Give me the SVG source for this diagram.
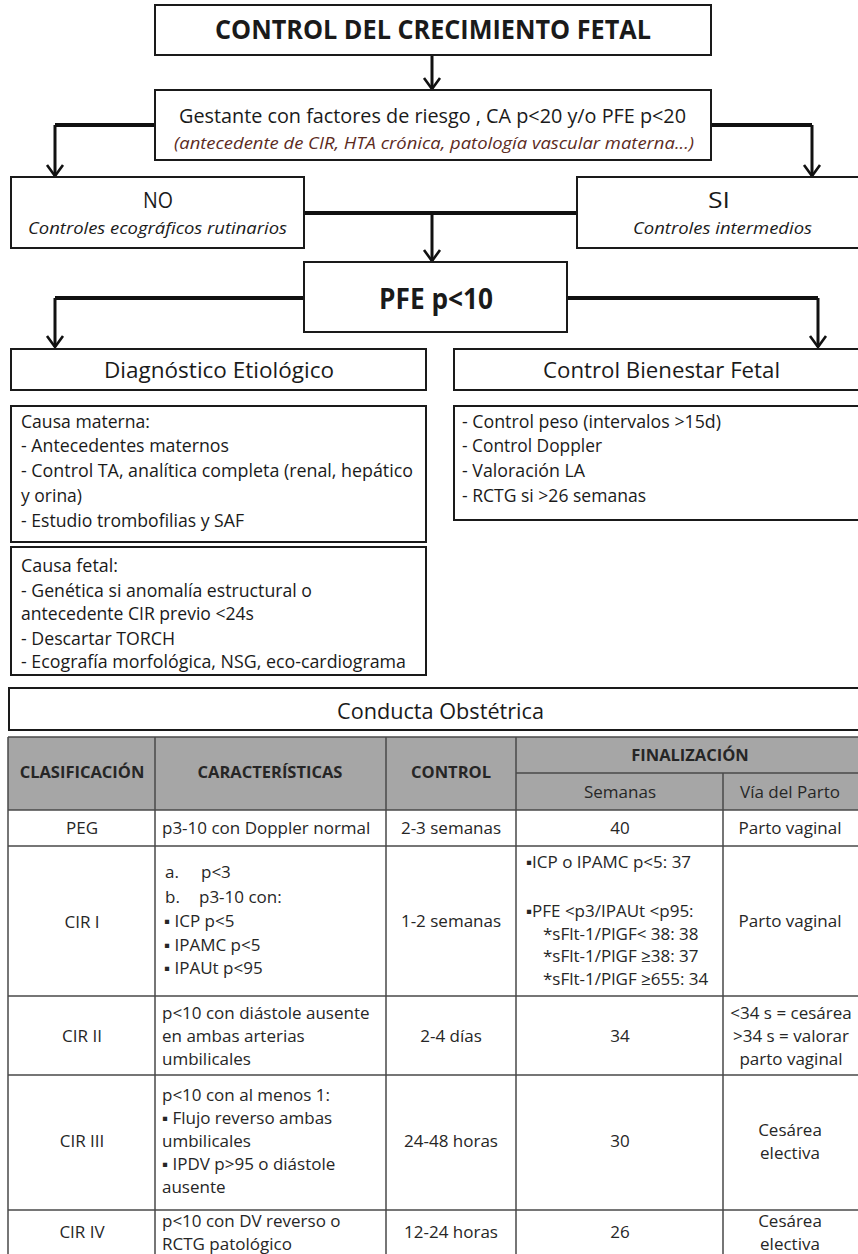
<svg xmlns="http://www.w3.org/2000/svg" width="858" height="1254" viewBox="0 0 858 1254">
<defs>
<style>
.box{fill:#fff;stroke:#1a1a1a;stroke-width:2}
.t{font-family:"Open Sans","Liberation Sans",sans-serif;fill:#1a1a1a}
.b{font-weight:bold}
.i{font-style:italic}
.c{text-anchor:middle}
.ft{font-size:18px}
.conn{fill:none;stroke:#111;stroke-linejoin:miter}
.h{stroke-width:4}
.v{stroke-width:3}
.grid{stroke:#4a4a4a;stroke-width:1.5;fill:none}
.hd{fill:#a6a6a6}
.tb{font-family:"Open Sans","Liberation Sans",sans-serif;font-size:17px;fill:#262626}
.th{font-family:"Open Sans","Liberation Sans",sans-serif;font-size:16.5px;font-weight:bold;fill:#262626}
</style>
<marker id="ah" viewBox="-2 -10 15 20" refX="11" refY="0" markerWidth="15" markerHeight="20" orient="auto" markerUnits="userSpaceOnUse">
<path d="M0,-8 L11,0 L0,8" fill="none" stroke="#111" stroke-width="2.6"/>
</marker>
</defs>
<rect width="858" height="1254" fill="#fff"/>

<g id="connectors">
<path class="conn v" d="M432,55 L432,89" marker-end="url(#ah)"/>
<path class="conn h" d="M155,125 L55,125"/>
<path class="conn v" d="M55,125 L55,176" marker-end="url(#ah)"/>
<path class="conn h" d="M711,125 L812,125"/>
<path class="conn v" d="M812,125 L812,176" marker-end="url(#ah)"/>
<path class="conn h" d="M304,213 L577,213"/>
<path class="conn v" d="M432,213 L432,261" marker-end="url(#ah)"/>
<path class="conn h" d="M304,298 L55,298"/>
<path class="conn v" d="M55,298 L55,347" marker-end="url(#ah)"/>
<path class="conn h" d="M567,298 L818,298"/>
<path class="conn v" d="M818,298 L818,347" marker-end="url(#ah)"/>
</g>

<g id="title">
<rect class="box" x="155" y="5" width="556" height="50"/>
<text class="t b c" x="433" y="39" font-size="26" textLength="436" lengthAdjust="spacingAndGlyphs">CONTROL DEL CRECIMIENTO FETAL</text>
</g>

<g id="gestante">
<rect class="box" x="155" y="90" width="556" height="70"/>
<text class="t" x="179" y="123" font-size="20" textLength="507" lengthAdjust="spacingAndGlyphs">Gestante con factores de riesgo , CA p&lt;20 y/o PFE p&lt;20</text>
<text class="t i" x="174" y="149" font-size="17" style="fill:#5c2b1e" textLength="520" lengthAdjust="spacingAndGlyphs">(antecedente de CIR, HTA crónica, patología  vascular materna...)</text>
</g>

<g id="no">
<rect class="box" x="11" y="177" width="293" height="71"/>
<text class="t c" x="158" y="208" font-size="22" textLength="30" lengthAdjust="spacingAndGlyphs">NO</text>
<text class="t i" x="28" y="234" font-size="17" textLength="259" lengthAdjust="spacingAndGlyphs">Controles ecográficos rutinarios</text>
</g>

<g id="si">
<rect class="box" x="577" y="177" width="290" height="71"/>
<text class="t c" x="719" y="208" font-size="22" textLength="22" lengthAdjust="spacingAndGlyphs">SI</text>
<text class="t i" x="633" y="234" font-size="17" textLength="179" lengthAdjust="spacingAndGlyphs">Controles intermedios</text>
</g>

<g id="pfe">
<rect class="box" x="304" y="262" width="263" height="70"/>
<text class="t b" x="379" y="309" font-size="29" textLength="114" lengthAdjust="spacingAndGlyphs">PFE p&lt;10</text>
</g>

<g id="diagnostico">
<rect class="box" x="11" y="349" width="415" height="41"/>
<text class="t" x="104" y="378" font-size="21" textLength="230" lengthAdjust="spacingAndGlyphs">Diagnóstico Etiológico</text>
</g>

<g id="bienestar">
<rect class="box" x="454" y="349" width="414" height="41"/>
<text class="t" x="543" y="378" font-size="21" textLength="237" lengthAdjust="spacingAndGlyphs">Control Bienestar Fetal</text>
</g>

<g id="causa-materna">
<rect class="box" x="11" y="406" width="415" height="136"/>
<text class="t ft" x="21" y="428" textLength="129" lengthAdjust="spacingAndGlyphs">Causa materna:</text>
<text class="t ft" x="21" y="452" textLength="208" lengthAdjust="spacingAndGlyphs">- Antecedentes maternos</text>
<text class="t ft" x="21" y="477" textLength="392" lengthAdjust="spacingAndGlyphs">- Control TA, analítica completa (renal, hepático</text>
<text class="t ft" x="21" y="502" textLength="61" lengthAdjust="spacingAndGlyphs">y orina)</text>
<text class="t ft" x="21" y="527" textLength="223" lengthAdjust="spacingAndGlyphs">- Estudio trombofilias y SAF</text>
</g>

<g id="causa-fetal">
<rect class="box" x="11" y="547" width="415" height="128"/>
<text class="t ft" x="21" y="572" textLength="97" lengthAdjust="spacingAndGlyphs">Causa fetal:</text>
<text class="t ft" x="21" y="597" textLength="291" lengthAdjust="spacingAndGlyphs">- Genética si anomalía estructural o</text>
<text class="t ft" x="21" y="620" textLength="233" lengthAdjust="spacingAndGlyphs">antecedente CIR previo &lt;24s</text>
<text class="t ft" x="21" y="645" textLength="154" lengthAdjust="spacingAndGlyphs">- Descartar TORCH</text>
<text class="t ft" x="21" y="668" textLength="385" lengthAdjust="spacingAndGlyphs">- Ecografía morfológica, NSG, eco-cardiograma</text>
</g>

<g id="control-lista">
<rect class="box" x="454" y="406" width="414" height="114"/>
<text class="t ft" x="462" y="428" textLength="259" lengthAdjust="spacingAndGlyphs">- Control peso (intervalos &gt;15d)</text>
<text class="t ft" x="462" y="452" textLength="140" lengthAdjust="spacingAndGlyphs">- Control Doppler</text>
<text class="t ft" x="462" y="477" textLength="123" lengthAdjust="spacingAndGlyphs">- Valoración LA</text>
<text class="t ft" x="462" y="502" textLength="184" lengthAdjust="spacingAndGlyphs">- RCTG si &gt;26 semanas</text>
</g>

<g id="conducta">
<rect class="box" x="9" y="688" width="860" height="42"/>
<text class="t" x="337" y="719" font-size="21" textLength="207" lengthAdjust="spacingAndGlyphs">Conducta Obstétrica</text>
</g>

<g id="table">
<rect class="hd" x="8" y="737" width="852" height="73"/>
<path class="grid" d="M8,737 H860 M516,773 H860 M8,810 H860 M8,846 H860 M8,996 H860 M8,1075 H860 M8,1210 H860 M8,737 V1260 M155,737 V1260 M386,737 V1260 M516,737 V1260 M723,773 V1260"/>
<text class="th c" x="82" y="778">CLASIFICACIÓN</text>
<text class="th c" x="270" y="778">CARACTERÍSTICAS</text>
<text class="th c" x="451" y="778">CONTROL</text>
<text class="th c" x="690" y="761">FINALIZACIÓN</text>
<text class="tb c" x="620" y="798">Semanas</text>
<text class="tb c" x="790" y="798">Vía del Parto</text>

<text class="tb c" x="82" y="834">PEG</text>
<text class="tb" x="162" y="834">p3-10 con Doppler normal</text>
<text class="tb c" x="451" y="834">2-3 semanas</text>
<text class="tb c" x="620" y="834">40</text>
<text class="tb c" x="790" y="834">Parto vaginal</text>

<text class="tb c" x="82" y="928">CIR I</text>
<text class="tb" x="165" y="878">a.</text><text class="tb" x="201" y="878">p&lt;3</text>
<text class="tb" x="165" y="903">b.</text><text class="tb" x="199" y="903">p3-10 con:</text>
<text class="tb" x="164" y="927">▪ ICP p&lt;5</text>
<text class="tb" x="164" y="951">▪ IPAMC p&lt;5</text>
<text class="tb" x="164" y="974">▪ IPAUt p&lt;95</text>
<text class="tb c" x="451" y="927">1-2 semanas</text>
<text class="tb" x="526" y="868">▪ICP o IPAMC p&lt;5: 37</text>
<text class="tb" x="526" y="917">▪PFE &lt;p3/IPAUt &lt;p95:</text>
<text class="tb" x="543" y="940">*sFlt-1/PlGF&lt; 38: 38</text>
<text class="tb" x="543" y="962">*sFlt-1/PlGF ≥38: 37</text>
<text class="tb" x="543" y="985">*sFlt-1/PlGF ≥655: 34</text>
<text class="tb c" x="790" y="927">Parto vaginal</text>

<text class="tb c" x="82" y="1042">CIR II</text>
<text class="tb" x="162" y="1019">p&lt;10 con diástole ausente</text>
<text class="tb" x="162" y="1042">en ambas arterias</text>
<text class="tb" x="162" y="1065">umbilicales</text>
<text class="tb c" x="451" y="1042">2-4 días</text>
<text class="tb c" x="620" y="1042">34</text>
<text class="tb c" x="791" y="1019">&lt;34 s = cesárea</text>
<text class="tb c" x="791" y="1042">&gt;34 s = valorar</text>
<text class="tb c" x="791" y="1065">parto vaginal</text>

<text class="tb c" x="82" y="1147">CIR III</text>
<text class="tb" x="162" y="1101">p&lt;10 con al menos 1:</text>
<text class="tb" x="162" y="1124">▪ Flujo reverso ambas</text>
<text class="tb" x="162" y="1147">umbilicales</text>
<text class="tb" x="162" y="1170">▪ IPDV p&gt;95 o diástole</text>
<text class="tb" x="162" y="1193">ausente</text>
<text class="tb c" x="451" y="1147">24-48 horas</text>
<text class="tb c" x="620" y="1147">30</text>
<text class="tb c" x="790" y="1136">Cesárea</text>
<text class="tb c" x="790" y="1159">electiva</text>

<text class="tb c" x="82" y="1238">CIR IV</text>
<text class="tb" x="162" y="1227">p&lt;10 con DV reverso o</text>
<text class="tb" x="162" y="1250">RCTG patológico</text>
<text class="tb c" x="451" y="1238">12-24 horas</text>
<text class="tb c" x="620" y="1238">26</text>
<text class="tb c" x="790" y="1227">Cesárea</text>
<text class="tb c" x="790" y="1250">electiva</text>
</g>
</svg>
